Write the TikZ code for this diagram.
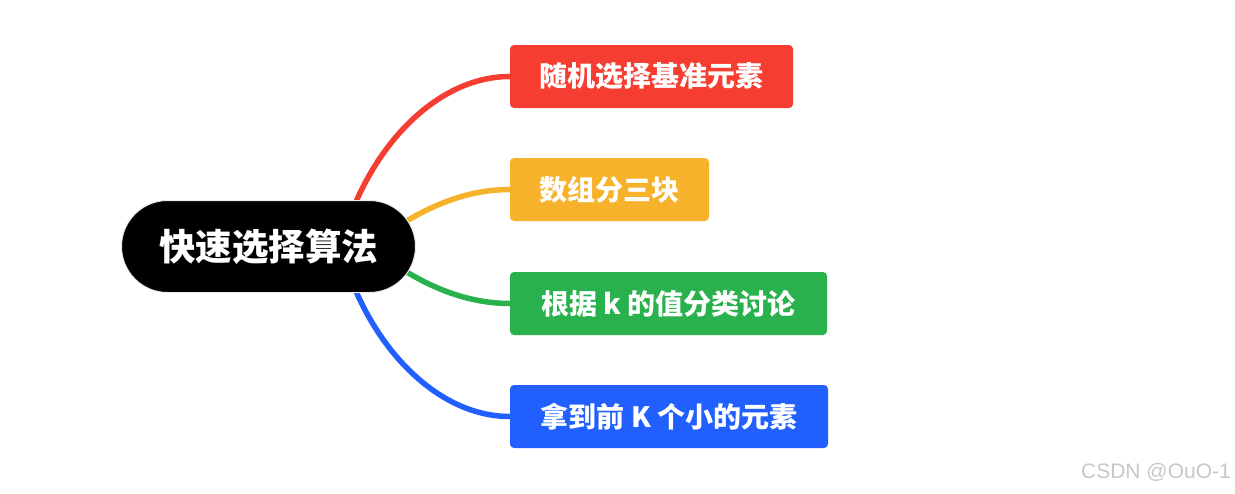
\documentclass[tikz,border=0pt]{standalone}
\usepackage{fontspec}
\newfontfamily\cjk{Noto Sans CJK SC}
\setsansfont{Liberation Sans}
\usetikzlibrary{backgrounds}
\definecolor{cred}{HTML}{F53E31}
\definecolor{cyellow}{HTML}{F7B22B}
\definecolor{cgreen}{HTML}{28B14C}
\definecolor{cblue}{HTML}{2160FF}
\definecolor{wm}{HTML}{C8C8C8}
\begin{document}
\begin{tikzpicture}[x=1pt,y=-1pt,
  rootbox/.style={fill=black,draw=black!8,line width=1pt,rounded corners=46pt,
    minimum width=294pt,minimum height=92pt,inner sep=0pt,text=white,
    font=\cjk\bfseries\fontsize{36.5}{36.5}\selectfont},
  leafbox/.style={fill=#1,rounded corners=4pt,minimum height=63pt,inner sep=0pt,
    text=white,font=\cjk\bfseries\fontsize{28}{28}\selectfont},
  branch/.style={draw=#1,line width=5.5pt,line cap=round}]
\useasboundingbox (0,0) rectangle (1235,493);
\node[rootbox] (root) at (268.5,246.5) {\raisebox{-2pt}{快速选择算法}};
\node[leafbox=cred,minimum width=283pt] (b1) at (651.5,76.5) {\raisebox{-1pt}{随机选择基准元素}};
\node[leafbox=cyellow,minimum width=199pt] (b2) at (609.5,189.5) {\raisebox{-1pt}{数组分三块}};
\node[leafbox=cgreen,minimum width=317pt] (b3) at (668.5,303.5) {\raisebox{-1pt}{根据 k 的值分类讨论}};
\node[leafbox=cblue,minimum width=318pt] (b4) at (669,416.5) {\raisebox{-1pt}{拿到前 K 个小的元素}};
\node[font=\sffamily\fontsize{21}{21}\selectfont,text=wm,anchor=east,inner sep=0pt] (wmk) at (1231,472) {CSDN @OuO-1};
\begin{scope}[on background layer]
\fill[white] (0,0) rectangle (1235,493);
\draw[branch=cred] ([xshift=72pt]root.center) .. controls +(25,-96) and +(-75,0) .. (b1.west);
\draw[branch=cyellow] ([xshift=102pt]root.center) .. controls +(30,-24) and +(-60,0) .. (b2.west);
\draw[branch=cgreen] ([xshift=102pt]root.center) .. controls +(30,24) and +(-60,0) .. (b3.west);
\draw[branch=cblue] ([xshift=72pt]root.center) .. controls +(25,96) and +(-75,0) .. (b4.west);
\end{scope}
\end{tikzpicture}
\end{document}
